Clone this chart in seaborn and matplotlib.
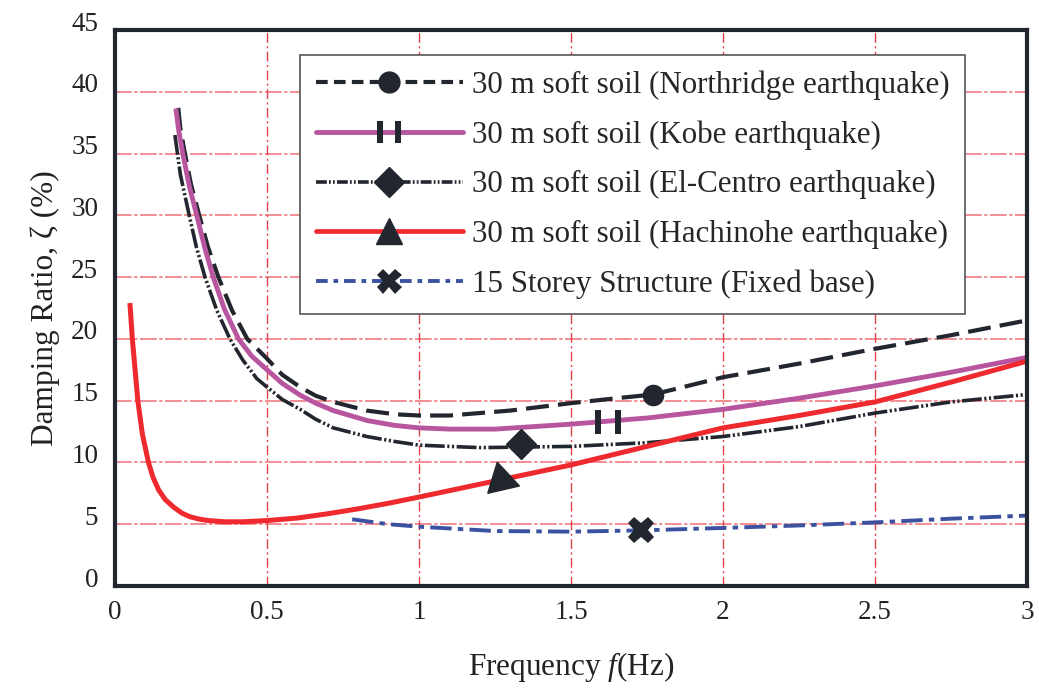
import matplotlib
matplotlib.use("Agg")
import matplotlib.pyplot as plt
import matplotlib.transforms as mtransforms
from matplotlib.lines import Line2D
from matplotlib.path import Path
import seaborn as sns
import pandas as pd

# ---------------- data ----------------
north_x = [0.208, 0.215, 0.23, 0.25, 0.277, 0.305, 0.34, 0.385, 0.435, 0.5, 0.55, 0.609, 0.66, 0.718,
           0.828, 0.92, 1.0, 1.1, 1.3, 1.5, 1.65, 1.77, 2.0, 2.25, 2.5, 2.75, 3.0]
north_y = [38.7, 37.0, 35.0, 32.5, 30.0, 27.5, 25.0, 22.3, 20.0, 18.4, 17.1, 16.1, 15.4, 14.9,
           14.2, 13.9, 13.8, 13.8, 14.2, 14.8, 15.2, 15.5, 16.9, 18.0, 19.2, 20.3, 21.5]

kobe_x = [0.2, 0.21, 0.223, 0.245, 0.269, 0.295, 0.323, 0.36, 0.406, 0.45, 0.5, 0.55, 0.609, 0.66,
          0.718, 0.828, 0.92, 1.0, 1.1, 1.25, 1.5, 1.75, 2.0, 2.25, 2.5, 2.75, 3.0]
kobe_y = [38.65, 36.8, 35.0, 32.3, 30.0, 27.4, 25.0, 22.4, 20.0, 18.6, 17.5, 16.4, 15.45, 14.8,
          14.2, 13.4, 13.0, 12.8, 12.7, 12.7, 13.1, 13.6, 14.3, 15.2, 16.2, 17.3, 18.5]

elc_x = [0.197, 0.215, 0.244, 0.268, 0.296, 0.335, 0.378, 0.42, 0.466, 0.5, 0.55, 0.609, 0.66, 0.718,
         0.828, 0.92, 1.0, 1.1, 1.2, 1.5, 1.75, 2.0, 2.25, 2.5, 2.75, 3.0]
elc_y = [36.5, 33.3, 30.0, 27.4, 25.0, 22.3, 20.0, 18.3, 16.8, 16.1, 15.1, 14.3, 13.5, 12.8,
         12.1, 11.7, 11.4, 11.3, 11.2, 11.3, 11.6, 12.1, 12.9, 14.0, 14.9, 15.5]

hach_x = [0.049, 0.057, 0.066, 0.075, 0.09, 0.11, 0.125, 0.143, 0.165, 0.192, 0.22, 0.247, 0.28, 0.307,
          0.36, 0.42, 0.5, 0.6, 0.7, 0.8, 0.9, 1.0, 1.25, 1.5, 1.75, 2.0, 2.25, 2.5, 2.75, 3.0]
hach_y = [22.9, 20.0, 17.5, 15.0, 12.3, 10.0, 8.8, 7.8, 7.0, 6.4, 5.9, 5.6, 5.4, 5.3,
          5.2, 5.2, 5.3, 5.5, 5.85, 6.25, 6.7, 7.2, 8.5, 9.8, 11.3, 12.8, 13.8, 14.9, 16.5, 18.2]

fixed_x = [0.78, 0.9, 1.0, 1.25, 1.5, 1.73, 2.0, 2.25, 2.5, 2.75, 3.0]
fixed_y = [5.4, 5.0, 4.8, 4.45, 4.4, 4.5, 4.7, 4.9, 5.15, 5.45, 5.7]

marker_x = [1.77, 1.62, 1.335, 1.27, 1.73]
marker_y = [15.5, 13.3, 11.5, 8.6, 4.5]

labels = ["30 m soft soil (Northridge earthquake)",
          "30 m soft soil (Kobe earthquake)",
          "30 m soft soil (El-Centro earthquake)",
          "30 m soft soil (Hachinohe earthquake)",
          "15 Storey Structure (Fixed base)"]

x_ticks = [0, 0.5, 1, 1.5, 2, 2.5, 3]
x_ticklabels = ["0", "0.5", "1", "1.5", "2", "2.5", "3"]
y_ticks = [0, 5, 10, 15, 20, 25, 30, 35, 40, 45]

# ---------------- style ----------------
sns.set_style("white")
plt.rcParams['font.family'] = ['Liberation Serif', 'DejaVu Serif']
plt.rcParams['mathtext.fontset'] = 'custom'
plt.rcParams['mathtext.rm'] = 'Liberation Serif'
plt.rcParams['mathtext.it'] = 'Liberation Serif:italic'

DARK = '#22262e'
MAG = '#b8559f'
RED = '#ee2a2e'
BLUE = '#3a52a0'

# Kobe double-bar marker
bar_verts = [(-1, -0.9), (-0.55, -0.9), (-0.55, 0.9), (-1, 0.9), (-1, -0.9),
             (0.55, -0.9), (1, -0.9), (1, 0.9), (0.55, 0.9), (0.55, -0.9)]
bar_codes = [Path.MOVETO, Path.LINETO, Path.LINETO, Path.LINETO, Path.CLOSEPOLY] * 2
bars_marker = Path(bar_verts, bar_codes)

fig = plt.figure(figsize=(10.39, 6.90), dpi=100)
ax = fig.add_axes([0.1107, 0.1507, 0.9885 - 0.1107, 0.9565 - 0.1507])

series = [
    (north_x, north_y, DARK, 3.0, [5.5, 2.2]),
    (kobe_x, kobe_y, MAG, 3.5, None),
    (elc_x, elc_y, DARK, 2.6, [5.5, 0.7, 0.6, 0.7, 0.6, 0.7]),
    (hach_x, hach_y, RED, 3.6, None),
    (fixed_x, fixed_y, BLUE, 2.8, [5.5, 1.6, 1.4, 1.6]),
]
for (xs, ys, c, lw, dsh) in series:
    df = pd.DataFrame({'f': xs, 'z': ys})
    sns.lineplot(data=df, x='f', y='z', ax=ax, color=c, linewidth=lw,
                 sort=False, estimator=None, zorder=3)
    ln = ax.lines[-1]
    ln.set_solid_capstyle('butt')
    ln.set_solid_joinstyle('round')
    if dsh is not None:
        ln.set_dashes(dsh)
        ln.set_dash_capstyle('butt')
        ln.set_dash_joinstyle('round')

# markers on the curves
ax.plot([marker_x[0]], [marker_y[0]], linestyle='none', marker='o', ms=14.5, color=DARK, zorder=5)
ax.plot([marker_x[1]], [marker_y[1]], linestyle='none', marker=bars_marker, ms=19, color=DARK, mew=0, zorder=5)
ax.plot([marker_x[2]], [marker_y[2]], linestyle='none', marker='D', ms=15, color=DARK, zorder=5)
ax.plot([marker_x[3]], [marker_y[3]], linestyle='none', marker=(3, 0, 13), ms=27, color=DARK, zorder=5)
ax.plot([marker_x[4]], [marker_y[4]], linestyle='none', marker='X', ms=19, color=DARK, mew=0, zorder=5)

ax.set_xlim(0, 3)
ax.set_ylim(0, 45)
ax.set_xticks(x_ticks)
ax.set_xticklabels(x_ticklabels)
ax.set_yticks(y_ticks)

# grid
for yv in y_ticks[1:-1]:
    ax.axhline(yv, color='#f07a82', lw=1.2, dashes=(10, 1.5, 2, 1.5), zorder=1)
for xv in x_ticks[1:-1]:
    ax.axvline(xv, color='#e8404a', lw=1.0, dashes=(7, 2.5, 1.5, 2.5), zorder=1)

for sp in ax.spines.values():
    sp.set_color(DARK)
    sp.set_linewidth(3)
    sp.set_zorder(6)

ax.tick_params(axis='both', length=0, labelsize=19.5, colors='#222222')
ax.tick_params(axis='x', pad=10)
ax.tick_params(axis='y', pad=12)
offset = mtransforms.ScaledTranslation(0, 9 / 100, fig.dpi_scale_trans)
for tk in ax.yaxis.get_major_ticks():
    tk.label1.set_transform(tk.label1.get_transform() + offset)

ax.set_xlabel(r'Frequency $f$(Hz)', fontsize=22.5, labelpad=18, color='#222222')
ax.set_ylabel('Damping Ratio, ζ (%)', fontsize=22.5, labelpad=8, color='#222222')

# legend
handles = [
    Line2D([0], [0], color=DARK, lw=3.0, dashes=[2.8, 1.5], marker='o', ms=15, mfc=DARK, mec=DARK),
    Line2D([0], [0], color=MAG, lw=3.5, marker=bars_marker, ms=17, mfc=DARK, mec=DARK, mew=0),
    Line2D([0], [0], color=DARK, lw=2.6, dashes=[3, 0.6, 0.5, 0.6, 0.5, 0.6], marker='D', ms=15, mfc=DARK, mec=DARK),
    Line2D([0], [0], color=RED, lw=3.4, marker='^', ms=19, mfc=DARK, mec=DARK),
    Line2D([0], [0], color=BLUE, lw=2.8, dashes=[3, 1.5, 1.2, 1.5], marker='X', ms=18, mfc=DARK, mec=DARK, mew=0),
]
leg = ax.legend(handles, labels, loc='upper left', bbox_to_anchor=(0.203, 0.955),
                borderaxespad=0, fontsize=22.3, handlelength=4.75, handletextpad=0.3,
                labelspacing=0.66, borderpad=0.5, fancybox=False, framealpha=1,
                edgecolor='#555555', numpoints=1)
leg.get_frame().set_linewidth(1.2)
leg.set_zorder(7)

fig.savefig('out.png', dpi=100)
